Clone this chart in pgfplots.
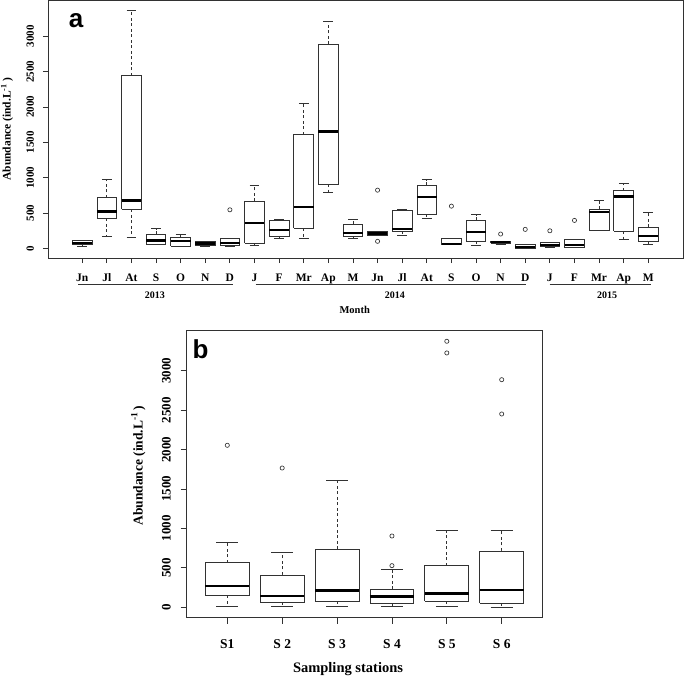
\documentclass[border=0pt]{standalone}
\usepackage{pgfplots}
\pgfplotsset{compat=1.18}
\usepackage{fontspec}
\setmainfont{Liberation Serif}
\newfontfamily\arial{Liberation Sans}
\definecolor{lc}{RGB}{50,50,50}
\pgfplotsset{
  wh/.style={draw=lc, line width=0.85pt, dash pattern=on 3pt off 2.5pt, mark=none},
  cap/.style={draw=lc, line width=0.85pt, solid, mark=none},
  boxs/.style={draw=lc, fill=white, line width=0.85pt, solid, mark=none, line join=miter},
  med/.style={draw=black, line width=2.4pt, solid, mark=none},
  outl/.style={only marks, mark=o, mark size=2.1pt, mark options={draw=lc, line width=0.65pt, solid}},
}
% pos, lower whisker, lower quartile, median, upper quartile, upper whisker
\newcommand\bx[6]{%
  \pgfmathsetmacro\xa{#1-0.4}\pgfmathsetmacro\xb{#1+0.4}%
  \pgfmathsetmacro\ca{#1-0.2}\pgfmathsetmacro\cb{#1+0.2}%
  \addplot[wh] coordinates {(#1,#3) (#1,#2)};
  \addplot[wh] coordinates {(#1,#5) (#1,#6)};
  \addplot[cap] coordinates {(\ca,#2) (\cb,#2)};
  \addplot[cap] coordinates {(\ca,#6) (\cb,#6)};
  \addplot[boxs] coordinates {(\xa,#3) (\xb,#3) (\xb,#5) (\xa,#5) (\xa,#3)};
  \addplot[med] coordinates {(\xa,#4) (\xb,#4)};
}
\begin{document}
\begin{tikzpicture}
\useasboundingbox (0pt,0pt) rectangle (685pt,-677pt);
% ---------------- panel a ----------------
\begin{axis}[
  at={(48pt,-258pt)}, anchor=south west, scale only axis,
  width=635.5pt, height=257.3pt,
  xmin=-0.39, xmax=25.43, ymin=-137, ymax=3504,
  clip=false,
  axis line style={lc, line width=0.9pt},
  every tick/.style={lc, line width=0.8pt},
  tick align=outside, major tick length=5pt,
  xtick pos=bottom, ytick pos=left,
  xtick={1,...,24},
  xticklabels={Jn,Jl,At,S,O,N,D,J,F,Mr,Ap,M,Jn,Jl,At,S,O,N,D,J,F,Mr,Ap,M},
  ytick={0,500,...,3000},
  /pgf/number format/assume math mode=true,
  /pgf/number format/1000 sep={},
  xticklabel style={font=\fontsize{11.5}{12}\selectfont\bfseries, anchor=base, yshift=-18pt},
  yticklabel style={font=\fontsize{11}{12}\selectfont\bfseries, rotate=90, anchor=base, yshift=9pt},
  ylabel={Abundance (ind.L\textsuperscript{-1}\,)},
  ylabel style={font=\fontsize{11.5}{12}\selectfont\bfseries, at={(axis description cs:-0.0645,0.5)}, anchor=center},
]
\bx{1}{28}{56}{75}{108}{110}
\bx{2}{174}{423}{522}{715}{973}
\bx{3}{155}{550}{677}{2445}{3362}
\bx{4}{61}{61}{113}{197}{277}
\bx{5}{24}{28}{103}{155}{192}
\bx{6}{23}{47}{70}{94}{99}
\bx{7}{23}{47}{75}{145}{145}
\bx{8}{47}{75}{362}{663}{889}
\bx{9}{145}{174}{263}{395}{409}
\bx{10}{136}{282}{587}{1608}{2050}
\bx{11}{785}{907}{1655}{2887}{3217}
\bx{12}{136}{174}{216}{339}{409}
\bx{13}{178}{178}{212}{240}{240}
\bx{14}{183}{240}{277}{531}{550}
\bx{15}{428}{484}{724}{889}{973}
\bx{16}{51}{51}{61}{136}{136}
\bx{17}{47}{103}{230}{395}{474}
\bx{18}{56}{70}{89}{103}{103}
\bx{19}{4}{4}{18}{56}{56}
\bx{20}{15}{23}{51}{85}{85}
\bx{21}{9}{9}{47}{122}{122}
\bx{22}{258}{258}{512}{550}{672}
\bx{23}{127}{244}{734}{818}{921}
\bx{24}{61}{94}{174}{296}{508}
\addplot[outl] coordinates {(7,545) (13,823) (13,99) (16,597) (18,202) (19,268) (20,248) (21,395)};
\end{axis}
% annotation overlay for panel a
\begin{axis}[
  at={(48pt,-258pt)}, anchor=south west, scale only axis,
  width=635.5pt, height=257.3pt,
  xmin=-0.39, xmax=25.43, ymin=-137, ymax=3504,
  clip=false, hide axis,
]
\draw[lc, line width=0.9pt] (axis cs:0.83,-518) -- (axis cs:7.12,-518);
\draw[lc, line width=0.9pt] (axis cs:8.05,-518) -- (axis cs:19.04,-518);
\draw[lc, line width=0.9pt] (axis cs:19.99,-518) -- (axis cs:24.12,-518);
\node[font=\fontsize{10}{12}\selectfont\bfseries] at (axis cs:3.95,-659) {2013};
\node[font=\fontsize{10}{12}\selectfont\bfseries] at (axis cs:13.7,-659) {2014};
\node[font=\fontsize{10}{12}\selectfont\bfseries] at (axis cs:22.33,-659) {2015};
\node[font=\fontsize{10.5}{12}\selectfont\bfseries] at (axis cs:12.07,-870) {Month};
\node[font=\arial\fontsize{26}{28}\selectfont\bfseries] at (axis cs:0.75,3220) {a};
\end{axis}
% ---------------- panel b ----------------
\begin{axis}[
  at={(186.7pt,-617.7pt)}, anchor=south west, scale only axis,
  width=355.6pt, height=287pt,
  xmin=0.26, xmax=6.74, ymin=-132, ymax=3507,
  clip=false,
  axis line style={lc, line width=0.9pt},
  every tick/.style={lc, line width=0.8pt},
  tick align=outside, major tick length=6pt,
  xtick pos=bottom, ytick pos=left,
  xtick={1,...,6},
  xticklabels={S1,S 2,S 3,S 4,S 5,S 6},
  ytick={0,500,...,3000},
  /pgf/number format/assume math mode=true,
  /pgf/number format/1000 sep={},
  xticklabel style={font=\fontsize{13.5}{14}\selectfont\bfseries, anchor=base, yshift=-25pt},
  yticklabel style={font=\fontsize{13}{14}\selectfont\bfseries, rotate=90, anchor=base, yshift=10pt},
  ylabel={Abundance (ind.L\textsuperscript{-1}\,)},
  ylabel style={font=\fontsize{13.5}{14}\selectfont\bfseries, at={(axis description cs:-0.136,0.53)}, anchor=center},
]
\bx{1}{17}{152}{270}{566}{819}
\bx{2}{17}{63}{143}{410}{697}
\bx{3}{17}{80}{211}{739}{1605}
\bx{4}{8}{51}{135}{228}{482}
\bx{5}{8}{80}{177}{528}{972}
\bx{6}{0}{51}{219}{714}{972}
\addplot[outl] coordinates {(1,2054) (2,1766) (4,528) (4,904) (5,3373) (5,3225) (6,2886) (6,2451)};
\node[font=\fontsize{14.5}{16}\selectfont\bfseries] at (axis description cs:0.4536,-0.179) {Sampling stations};
\node[font=\arial\fontsize{26}{28}\selectfont\bfseries] at (axis description cs:0.0388,0.936) {b};
\end{axis}
\end{tikzpicture}
\end{document}
